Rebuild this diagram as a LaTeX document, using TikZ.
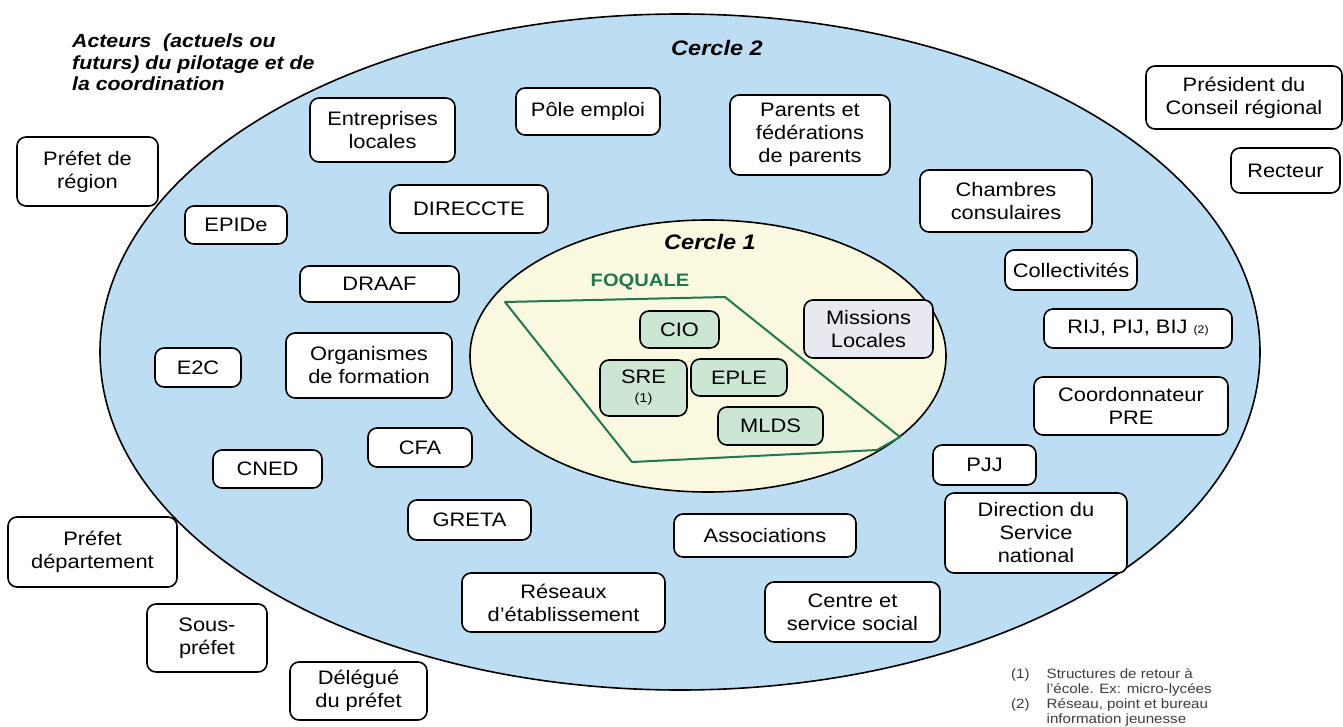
\documentclass[tikz,border=0pt]{standalone}
\usepackage{fontspec}
\setmainfont{Liberation Sans}[FakeStretch=1.12]
\definecolor{outerblue}{RGB}{188,221,242}
\definecolor{innercream}{RGB}{250,248,222}
\definecolor{greenbox}{RGB}{205,230,212}
\definecolor{greyml}{RGB}{232,232,240}
\definecolor{foqgreen}{RGB}{30,120,80}
\definecolor{notegrey}{RGB}{60,60,60}
\tikzset{
  actor/.style={draw=black, line width=1.6pt, rounded corners=9pt, fill=white, align=center,
    font=\fontsize{19.5}{23}\selectfont, inner sep=0pt},
  foqbox/.style={actor, fill=greenbox},
  mlbox/.style={actor, fill=greyml},
  title/.style={font=\bfseries\itshape\fontsize{21}{24}\selectfont, inner sep=0pt},
}
\begin{document}
\begin{tikzpicture}[x=1pt,y=-1pt]
\useasboundingbox (0,0) rectangle (1343,727);
% circles
\draw[line width=1.6pt, fill=outerblue] (680,352) ellipse [x radius=580pt, y radius=338pt];
\draw[line width=1.6pt, fill=innercream] (708,356) ellipse [x radius=238pt, y radius=136pt];
% FOQUALE outline
\draw[foqgreen, line width=2pt, line join=round] (505,302) -- (725,297) -- (900,437) -- (877,450) -- (632,462) -- cycle;
\node[font=\bfseries\fontsize{18}{20}\selectfont, text=foqgreen, inner sep=0pt] (foq) at (640,282) {FOQUALE};
% titles
\node[title] (c2) at (717,48) {Cercle 2};
\node[title] (c1) at (710,242) {Cercle 1};
\node[anchor=north west, align=left, font=\bfseries\itshape\fontsize{19}{21.5}\selectfont, inner sep=0pt] (head) at (72,34)
  {Acteurs\ \ (actuels ou\\futurs) du pilotage et de\\la coordination};
% outer actors
\node[actor, minimum width=141, minimum height=69] (prefreg) at (87.5,171.5) {Préfet de\\région};
\node[actor, minimum width=145, minimum height=64] (entr) at (382.5,130) {Entreprises\\locales};
\node[actor, minimum width=144, minimum height=47] (pole) at (588,111.5) {Pôle emploi};
\node[actor, minimum width=160, minimum height=80] (parents) at (810,135) {Parents et\\fédérations\\de parents};
\node[actor, minimum width=172, minimum height=62] (chamb) at (1006,201) {Chambres\\consulaires};
\node[actor, minimum width=196, minimum height=63] (pres) at (1244,97.5) {Président du\\Conseil régional};
\node[actor, minimum width=109, minimum height=45] (rect) at (1285.5,170.5) {Recteur};
\node[actor, minimum width=102, minimum height=38] (epide) at (236,225) {EPIDe};
\node[actor, minimum width=158, minimum height=48] (direccte) at (469,209) {DIRECCTE};
\node[actor, minimum width=159, minimum height=36] (draaf) at (379.5,284) {DRAAF};
\node[actor, minimum width=166, minimum height=65] (orga) at (369,365.5) {Organismes\\de formation};
\node[actor, minimum width=86, minimum height=39] (e2c) at (198,367.5) {E2C};
\node[actor, minimum width=104, minimum height=39] (cfa) at (420,447.5) {CFA};
\node[actor, minimum width=109, minimum height=38] (cned) at (267.5,469) {CNED};
\node[actor, minimum width=123, minimum height=40] (greta) at (469.5,520) {GRETA};
\node[actor, minimum width=203, minimum height=59] (reseaux) at (563.5,602.5) {Réseaux\\d'établissement};
\node[actor, minimum width=182, minimum height=43] (assoc) at (765,535.5) {Associations};
\node[actor, minimum width=175, minimum height=60] (centre) at (852.5,612) {Centre et\\service social};
\node[actor, minimum width=132, minimum height=40] (collect) at (1071,270) {Collectivités};
\node[actor, minimum width=188, minimum height=39] (rij) at (1138,328.5) {RIJ, PIJ, BIJ {\fontsize{11}{13}\selectfont(2)}};
\node[actor, minimum width=194, minimum height=58] (coord) at (1131,406) {Coordonnateur\\PRE};
\node[actor, minimum width=103, minimum height=40] (pjj) at (984.5,465) {PJJ};
\node[actor, minimum width=182, minimum height=80] (dsn) at (1036,533) {Direction du\\Service\\national};
\node[actor, minimum width=169, minimum height=70] (prefdep) at (92.5,552) {Préfet\\département};
\node[actor, minimum width=120, minimum height=68] (sous) at (207,638) {Sous-\\préfet};
\node[actor, minimum width=137, minimum height=58] (deleg) at (358.5,691) {Délégué\\du préfet};
% inner actors
\node[foqbox, minimum width=79, minimum height=37] (cio) at (679.5,329.5) {CIO};
\node[foqbox, minimum width=87, minimum height=56] (sre) at (643.5,388) {SRE\\[-4pt]{\fontsize{13}{15}\selectfont(1)}};
\node[foqbox, minimum width=96, minimum height=37] (eple) at (739,377.5) {EPLE};
\node[foqbox, minimum width=105, minimum height=38] (mlds) at (770.5,426) {MLDS};
\node[mlbox, minimum width=129, minimum height=58] (ml) at (868.5,329) {Missions\\Locales};
% footnotes
\node[anchor=north west, inner sep=0pt, text=notegrey, font=\fontsize{13.5}{15}\selectfont] (notes) at (1011,668)
  {\begin{tabular}{@{}l@{\hspace{17pt}}l@{}}
   (1) & Structures de retour à\\
       & l'école. Ex: micro-lycées\\
   (2) & Réseau, point et bureau\\
       & information jeunesse
   \end{tabular}};
\end{tikzpicture}
\end{document}
